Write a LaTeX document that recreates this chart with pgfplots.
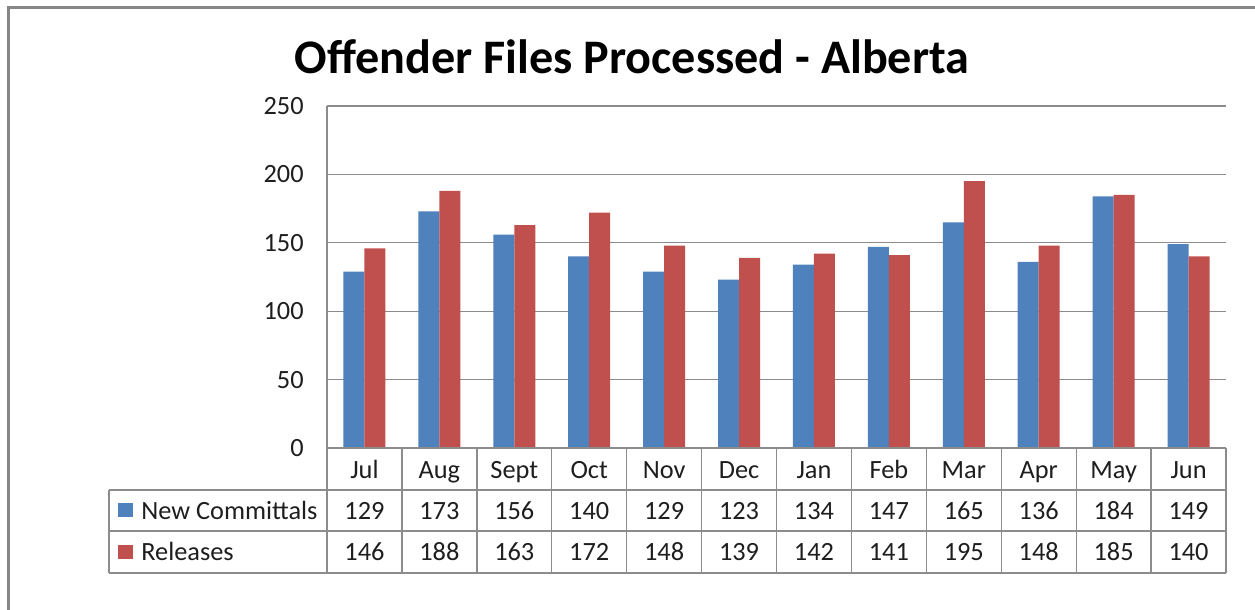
\documentclass[border=0pt]{standalone}
\usepackage{fontspec}
\setmainfont{Carlito}
\usepackage{pgfplots}
\usepackage{pgfplotstable}
\pgfplotsset{compat=1.18}

\definecolor{xlblue}{HTML}{4F81BD}
\definecolor{xlred}{HTML}{C0504D}
\definecolor{gridgray}{HTML}{8C8C8C}
\definecolor{framegray}{HTML}{868686}
\definecolor{txt}{HTML}{1E1E1E}

% month, new committals, releases
\pgfplotstableread{
x month nc rel
0 Jul 129 146
1 Aug 173 188
2 Sept 156 163
3 Oct 140 172
4 Nov 129 148
5 Dec 123 139
6 Jan 134 142
7 Feb 147 141
8 Mar 165 195
9 Apr 136 148
10 May 184 185
11 Jun 149 140
}\datatable

\begin{document}
\begin{tikzpicture}[x=0.6pt,y=0.6pt]
% 1 unit = 1 px of the reference (1255 x 609), y counted from the bottom
\clip (0,0) rectangle (1255,609);
\fill[white] (0,0) rectangle (1255,609);
\draw[framegray, line width=1.8pt] (8,601) rectangle (1270,-20);

\node[font=\bfseries\fontsize{28.9}{30}\selectfont, anchor=base] at (632,535)
  {Offender Files Processed - Alberta};

\begin{axis}[
    at={(196.2pt,96.6pt)}, anchor=south west,
    width=539.4pt, height=205.2pt, scale only axis,
    ybar=0pt, bar width=12.6pt,
    xmin=-0.5, xmax=11.5,
    ymin=0, ymax=250, ytick={0,50,...,250},
    xtick=\empty,
    axis line style={draw=none},
    ymajorgrids, grid style={gridgray, line width=0.8pt},
    tick style={draw=none},
    yticklabel style={font=\fontsize{15.8}{18}\selectfont, text=txt, xshift=-10.5pt},
    /pgf/number format/assume math mode=true,
    clip=false,
]
\addplot[fill=xlblue, draw=none] table[x=x, y=nc] {\datatable};
\addplot[fill=xlred, draw=none] table[x=x, y=rel] {\datatable};
\draw[gridgray, line width=0.8pt] (rel axis cs:0,0) -- (rel axis cs:0,1);
\end{axis}

% data table under the plot
\def\cw{74.917}
\begin{scope}[gridgray, line width=0.8pt]
  \draw (327,161) -- (1226,161);
  \draw (109,119) -- (1226,119);
  \draw (109,78) -- (1226,78);
  \draw (109,36) -- (1226,36);
  \draw (109,119) -- (109,36);
  \foreach \k in {0,...,12} {
    \draw ({327+\k*\cw},161) -- ({327+\k*\cw},36);
  }
\end{scope}

\fill[xlblue] (118,92) rectangle (133,106);
\fill[xlred] (118,50) rectangle (133,64);
\begin{scope}[font=\fontsize{15.8}{18}\selectfont, text=txt]
  \node[anchor=base west, inner sep=0pt] at (141,90) {New Committals};
  \node[anchor=base west, inner sep=0pt] at (141,49) {Releases};
  \foreach \i in {0,...,11} {
    \pgfmathsetmacro{\cx}{327+(\i+0.5)*\cw}
    \pgfplotstablegetelem{\i}{month}\of\datatable
    \node[anchor=base, inner sep=0pt] at (\cx,131) {\pgfplotsretval};
    \pgfplotstablegetelem{\i}{nc}\of\datatable
    \node[anchor=base, inner sep=0pt] at (\cx,90) {\pgfplotsretval};
    \pgfplotstablegetelem{\i}{rel}\of\datatable
    \node[anchor=base, inner sep=0pt] at (\cx,49) {\pgfplotsretval};
  }
\end{scope}
\end{tikzpicture}
\end{document}
